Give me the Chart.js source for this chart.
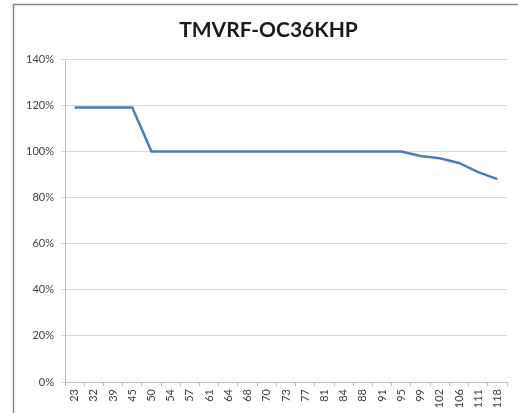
<!DOCTYPE html>
<html>
<head>
<meta charset="utf-8">
<script src="https://cdn.jsdelivr.net/npm/chart.js@4"></script>
<style>
  html, body { margin: 0; padding: 0; background: #fff; }
  #wrap { width: 518px; height: 413px; }
</style>
</head>
<body>
<div id="wrap"><canvas id="myChart" width="518" height="413"></canvas></div>
<script>
const temps = ['23','32','39','45','50','54','57','61','64','68','70','73','77','81','84','88','91','95','99','102','106','111','118'];
const capacity = [1.19,1.19,1.19,1.19,1.00,1.00,1.00,1.00,1.00,1.00,1.00,1.00,1.00,1.00,1.00,1.00,1.00,1.00,0.98,0.97,0.95,0.91,0.88];

// chart frame like the Excel export (top + left edge only)
const frame = {
  id: 'frame',
  afterLayout(chart) {
    // title sits centred over the framed area, not the whole canvas
    if (chart.titleBlock) chart.titleBlock.left = 30;
  },
  beforeDraw(chart) {
    const c = chart.ctx;
    c.save();
    c.strokeStyle = '#878787';
    c.lineWidth = 1.5;
    c.beginPath();
    c.moveTo(13.5, 413);
    c.lineTo(13.5, 4.5);
    c.lineTo(518, 4.5);
    c.stroke();
    c.restore();
  }
};

const ctx = document.getElementById('myChart').getContext('2d');
const myChart = new Chart(ctx, {
  type: 'line',
  plugins: [frame],
  data: {
    labels: temps,
    datasets: [{
      label: 'TMVRF-OC36KHP',
      data: capacity,
      borderColor: '#4a7ebb',
      backgroundColor: '#4a7ebb',
      borderWidth: 2.5,
      pointRadius: 0,
      tension: 0
    }]
  },
  options: {
    responsive: false,
    animation: false,
    layout: { padding: { left: 0, right: 11, top: 0, bottom: 0 } },
    plugins: {
      legend: { display: false },
      tooltip: { enabled: false },
      title: {
        display: true,
        text: 'TMVRF-OC36KHP',
        color: '#1a1a1a',
        font: { family: 'Lato', size: 21, weight: 'bold' },
        padding: { top: 18, bottom: 16 }
      }
    },
    scales: {
      x: {
        offset: true,
        grid: { display: true, offset: true, drawOnChartArea: false, tickLength: 4, color: '#bfbfbf' },
        border: { color: '#bfbfbf' },
        ticks: {
          autoSkip: false,
          minRotation: 90,
          maxRotation: 90,
          padding: 3,
          color: '#404040',
          font: { family: 'Lato', size: 11 }
        },
        afterFit(scale) { scale.height = 31; }
      },
      y: {
        min: 0,
        max: 1.4,
        grid: { color: '#d9d9d9', tickLength: 4 },
        border: { color: '#bfbfbf' },
        ticks: {
          stepSize: 0.2,
          padding: 7,
          color: '#404040',
          font: { family: 'Lato', size: 11 },
          callback: v => Math.round(v * 100) + '%'
        },
        afterFit(scale) { scale.width = 65; }
      }
    }
  }
});
</script>
</body>
</html>
